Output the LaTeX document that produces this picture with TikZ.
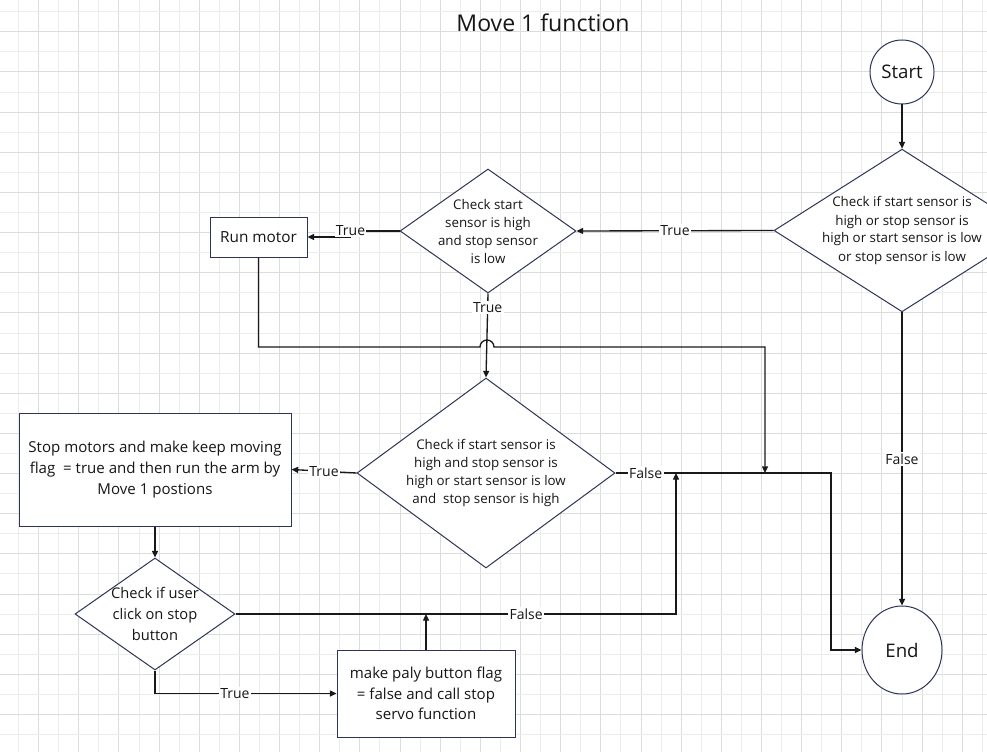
\documentclass[tikz,border=0pt]{standalone}
\usepackage{fontspec}
\setmainfont{Open Sans}
\usetikzlibrary{shapes.geometric,arrows.meta}
\definecolor{gridmin}{RGB}{236,236,236}
\definecolor{gridmaj}{RGB}{220,220,220}
\definecolor{outl}{RGB}{45,52,88}
\definecolor{wirec}{RGB}{25,25,25}
\definecolor{ink}{RGB}{22,22,22}
\begin{document}
\begin{tikzpicture}[x=0.75pt,y=-0.75pt,
  every node/.style={text=ink},
  term/.style={ellipse,draw=outl,line width=0.75pt,fill=white,inner sep=0pt,font=\fontsize{14pt}{16pt}\selectfont},
  chk/.style={diamond,draw=outl,line width=0.75pt,fill=white,inner sep=-6pt,align=center,font=\fontsize{10pt}{13.5pt}\selectfont},
  box/.style={rectangle,draw=outl,line width=0.75pt,fill=white,align=center,font=\fontsize{11.3pt}{15.5pt}\selectfont},
  lbl/.style={fill=white,inner sep=1pt,font=\fontsize{10.5pt}{12pt}\selectfont},
  arr/.style={draw=wirec,line width=1pt,-{Triangle[length=5pt,width=4.5pt]}}]
  \fill[white] (0,0) rectangle (987,752);
  \useasboundingbox (0,0) rectangle (987,752);
  \clip (0,0) rectangle (987,752);
  \foreach \i in {0,2,...,48} \draw[gridmin] (18.3+20.08*\i,0) -- (18.3+20.08*\i,752);
  \foreach \i in {1,3,...,49} \draw[gridmaj] (18.3+20.08*\i,0) -- (18.3+20.08*\i,752);
  \foreach \j in {0,2,...,36} \draw[gridmin] (0,11.5+20.08*\j) -- (987,11.5+20.08*\j);
  \foreach \j in {1,3,...,37} \draw[gridmaj] (0,11.5+20.08*\j) -- (987,11.5+20.08*\j);

  \node (title) at (543,23) [font=\fontsize{17.3pt}{20pt}\selectfont] {Move 1 function};
  \node (start) at (902,72) [term,minimum width=48pt,minimum height=48pt] {Start};
  \node (chk1) at (902,230.5) [chk,aspect=1.57,minimum width=192pt,minimum height=122pt] {Check if start sensor is\\high or stop sensor is\\high or start sensor is low\\or stop sensor is low};
  \node (chk2) at (488,231) [chk,aspect=1.42,minimum width=132pt,minimum height=93pt] {Check start\\sensor is high\\and stop sensor\\is low};
  \node (run) at (258.5,237) [box,minimum width=72.75pt,minimum height=30pt,font=\fontsize{11.5pt}{14pt}\selectfont] {Run motor};
  \node (chk3) at (486,473) [chk,aspect=1.36,minimum width=193.5pt,minimum height=142.5pt] {Check if start sensor is\\high and stop sensor is\\high or start sensor is low\\and\ \ stop sensor is high};
  \node (stop) at (155,469.5) [box,minimum width=204pt,minimum height=84.75pt] {Stop motors and make keep moving\\flag\ \ = true and then run the arm by\\Move 1 postions};
  \node (chk4) at (155,614) [chk,aspect=1.43,minimum width=120pt,minimum height=84pt,font=\fontsize{11pt}{16pt}\selectfont] {Check if user\\click on stop\\button};
  \node (paly) at (426,693.5) [box,minimum width=133.5pt,minimum height=65.25pt] {make paly button flag\\= false and call stop\\servo function};
  \node (end) at (902,650) [term,minimum width=60pt,minimum height=66pt] {End};

  \coordinate (hop) at (487,347);
  \coordinate (joinA) at (676,473);
  \coordinate (joinB) at (765,473);
  \coordinate (turn) at (831,473);

  \draw[arr] (start) -- (chk1);
  \draw[arr] (chk1.west) -- node[lbl] {True} (chk2.east);
  \draw[arr] (chk2.west) -- ++(-49,0) node[lbl] {True} |- (run.east);
  \draw[arr] (chk2.south) -- node[lbl,pos=0.17] {True} (chk3.north);
  \draw[arr] (run.south) |- ([xshift=-5.25pt]hop) arc (180:360:7) -| (joinB);
  \draw[arr] (chk3.west) -- node[lbl] {True} (stop.east);
  \draw[arr] (chk3.east) -- node[lbl,pos=0.14] {False} (turn) |- (end.west);
  \draw[arr] (stop) -- (chk4);
  \draw[arr] (chk4.east) -- node[lbl,pos=0.66] {False} (chk4.east -| joinA) -- (joinA);
  \draw[arr] (chk4.south) |- node[lbl,pos=0.72] {True} (paly.west);
  \draw[arr] (paly.north) -- (paly.north |- chk4.east);
  \draw[arr] (chk1.south) -- node[lbl] {False} (end.north);
\end{tikzpicture}
\end{document}
